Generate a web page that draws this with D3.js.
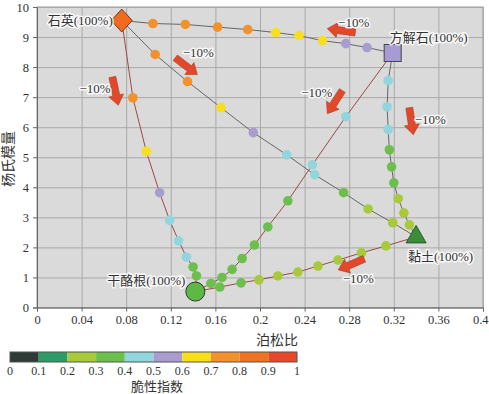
<!DOCTYPE html>
<html>
<head>
<meta charset="utf-8">
<script src="https://cdn.jsdelivr.net/npm/d3@7"></script>
<style>
body { margin: 0; background: #fff; }
svg text { font-family: "Liberation Serif", "Times New Roman", "DejaVu Serif", "Noto Sans CJK SC", serif; fill: #333; }
.halo { paint-order: stroke; stroke: #fff; stroke-width: 3px; stroke-opacity: 0.85; stroke-linejoin: round; }
</style>
</head>
<body>
<div id="chart"></div>
<script>
// End members (Poisson ratio, Young's modulus)
const members = [
    { id: 'qz',   name: '石英(100%)',   x: 0.076, y: 9.55 },
    { id: 'cal',  name: '方解石(100%)', x: 0.319, y: 8.47 },
    { id: 'clay', name: '黏土(100%)',   x: 0.340, y: 2.35 },
    { id: 'ker',  name: '干酪根(100%)', x: 0.142, y: 0.53 }
];

// Mixing curves, 10% steps: [poisson, young, brittleness]
const qzCal = [
    [0.104, 9.45, 0.75], [0.133, 9.42, 0.75], [0.162, 9.33, 0.75], [0.189, 9.25, 0.75],
    [0.214, 9.15, 0.65], [0.235, 9.05, 0.65], [0.256, 8.88, 0.65], [0.277, 8.78, 0.55],
    [0.296, 8.65, 0.55]
];
const qzClay = [
    [0.106, 8.42, 0.75], [0.135, 7.52, 0.75], [0.165, 6.65, 0.65], [0.194, 5.82, 0.55],
    [0.224, 5.08, 0.45], [0.249, 4.42, 0.45], [0.275, 3.82, 0.35], [0.297, 3.28, 0.25],
    [0.319, 2.82, 0.25]
];
const qzKer = [
    [0.086, 6.98, 0.75], [0.098, 5.20, 0.65], [0.110, 3.82, 0.55], [0.119, 2.90, 0.45],
    [0.127, 2.22, 0.45], [0.134, 1.68, 0.45], [0.140, 1.35, 0.35], [0.143, 1.05, 0.35]
];
const kerClay = [
    [0.164, 0.68, 0.35], [0.183, 0.82, 0.35], [0.199, 0.92, 0.25], [0.216, 1.05, 0.25],
    [0.234, 1.18, 0.25], [0.252, 1.38, 0.25], [0.270, 1.58, 0.25], [0.291, 1.82, 0.25],
    [0.313, 2.05, 0.25]
];
const kerCal = [
    [0.156, 0.80, 0.35], [0.166, 1.00, 0.35], [0.175, 1.27, 0.35], [0.184, 1.63, 0.35],
    [0.195, 2.08, 0.35], [0.207, 2.68, 0.35], [0.225, 3.55, 0.35], [0.247, 4.75, 0.45],
    [0.277, 6.35, 0.45]
];
const calClay = [
    [0.315, 7.55, 0.45], [0.314, 6.68, 0.45], [0.315, 5.92, 0.45], [0.316, 5.25, 0.35],
    [0.318, 4.68, 0.35], [0.320, 4.15, 0.35], [0.324, 3.62, 0.25], [0.329, 3.15, 0.25],
    [0.334, 2.75, 0.25]
];

// "-10%" arrows: from [x, y] to [x, y], label at [x, y]
const arrows = [
    { from: [0.0676, 7.67], to: [0.0729, 6.73], label: [0.0520, 7.30] },
    { from: [0.1240, 8.31], to: [0.1438, 7.75], label: [0.1447, 8.48] },
    { from: [0.2855, 9.15], to: [0.2604, 9.28], label: [0.2840, 9.49] },
    { from: [0.2738, 7.22], to: [0.2604, 6.45], label: [0.2510, 7.14] },
    { from: [0.3339, 6.65], to: [0.3375, 5.75], label: [0.3527, 6.25] },
    { from: [0.2935, 1.62], to: [0.2702, 1.25], label: [0.2882, 0.97] }
];

const xTicks = [0, 0.04, 0.08, 0.12, 0.16, 0.2, 0.24, 0.28, 0.32, 0.36, 0.4];
const yTicks = [0, 1, 2, 3, 4, 5, 6, 7, 8, 9, 10];
const brittleTicks = [0, 0.1, 0.2, 0.3, 0.4, 0.5, 0.6, 0.7, 0.8, 0.9, 1];
const brittleColors = ['#2f3a36', '#2e9a66', '#a8c93c', '#6cbf4c', '#90d6dc',
                       '#a99ccf', '#f8df1e', '#f2922c', '#ee7424', '#e8482a'];

const W = 489, H = 394;
const margin = { left: 37, right: 6, top: 7, bottom: 86.5 };
const iw = W - margin.left - margin.right;
const ih = H - margin.top - margin.bottom;
const serif = '"Liberation Serif", "Times New Roman", "DejaVu Serif", serif';

const svg = d3.select('#chart').append('svg')
    .attr('width', W).attr('height', H);

const x = d3.scaleLinear().domain([0, 0.4]).range([margin.left, margin.left + iw]);
const y = d3.scaleLinear().domain([0, 10]).range([margin.top + ih, margin.top]);
const color = d3.scaleThreshold().domain(brittleTicks.slice(1, -1)).range(brittleColors);

// plot background + grid
svg.append('rect')
    .attr('x', margin.left).attr('y', margin.top)
    .attr('width', iw).attr('height', ih)
    .attr('fill', '#dadada').attr('stroke', '#999');

svg.append('g')
    .attr('transform', `translate(0,${margin.top + ih})`)
    .call(d3.axisBottom(x).tickValues(xTicks).tickSize(-ih).tickFormat(''))
    .call(g => g.select('.domain').remove())
    .call(g => g.selectAll('line').attr('stroke', '#a9a9a9'));

svg.append('g')
    .attr('transform', `translate(${margin.left},0)`)
    .call(d3.axisLeft(y).tickValues(yTicks).tickSize(-iw).tickFormat(''))
    .call(g => g.select('.domain').remove())
    .call(g => g.selectAll('line').attr('stroke', '#a9a9a9'));

// axes
const xAxis = svg.append('g')
    .attr('transform', `translate(0,${margin.top + ih})`)
    .call(d3.axisBottom(x).tickValues(xTicks).tickSize(4).tickPadding(4).tickFormat(d => String(d)));
const yAxis = svg.append('g')
    .attr('transform', `translate(${margin.left},0)`)
    .call(d3.axisLeft(y).tickValues(yTicks).tickSize(4).tickPadding(4));
[xAxis, yAxis].forEach(a => {
    a.attr('font-family', serif);
    a.select('.domain').attr('stroke', '#666');
    a.selectAll('line').attr('stroke', '#666');
    a.selectAll('text').attr('font-size', 12.5).attr('fill', '#333')
        .style('font-family', serif);
});
// last x label sits on the right edge
xAxis.selectAll('text').filter(d => d === 0.4).attr('text-anchor', 'end').attr('dx', 5);

svg.append('text')
    .attr('x', 277).attr('y', 345)
    .attr('text-anchor', 'middle').attr('font-size', 14)
    .text('泊松比');

svg.append('text')
    .attr('transform', 'translate(13,159) rotate(-90)')
    .attr('text-anchor', 'middle').attr('font-size', 14)
    .text('杨氏模量');

// curves
const byId = Object.fromEntries(members.map(m => [m.id, m]));
const curves = [
    { from: 'qz', to: 'cal', pts: qzCal, stroke: '#666' },
    { from: 'qz', to: 'clay', pts: qzClay, stroke: '#666' },
    { from: 'cal', to: 'clay', pts: calClay, stroke: '#666' },
    { from: 'qz', to: 'ker', pts: qzKer, stroke: '#9a4a48' },
    { from: 'ker', to: 'cal', pts: kerCal, stroke: '#9a4a48' },
    { from: 'ker', to: 'clay', pts: kerClay, stroke: '#9a4a48' }
];

const line = d3.line().x(d => x(d[0])).y(d => y(d[1]));

svg.append('g').selectAll('path')
    .data(curves)
    .join('path')
    .attr('fill', 'none')
    .attr('stroke', d => d.stroke)
    .attr('stroke-width', 1)
    .attr('d', d => {
        const a = byId[d.from], b = byId[d.to];
        return line([[a.x, a.y], ...d.pts, [b.x, b.y]]);
    });

svg.append('g').selectAll('circle')
    .data(curves.flatMap(c => c.pts))
    .join('circle')
    .attr('cx', d => x(d[0]))
    .attr('cy', d => y(d[1]))
    .attr('r', 4.8)
    .attr('fill', d => color(d[2]));

// end member markers
const mk = svg.append('g');
const q = byId.qz, c = byId.cal, cl = byId.clay, k = byId.ker;
mk.append('path')
    .attr('transform', `translate(${x(q.x)},${y(q.y)})`)
    .attr('d', 'M0,-11.5L10.5,0L0,11.5L-10.5,0Z')
    .attr('fill', '#f06a20').attr('stroke', '#7a3a18').attr('stroke-width', 1);
mk.append('rect')
    .attr('x', x(c.x) - 8.5).attr('y', y(c.y) - 8.5)
    .attr('width', 17).attr('height', 17)
    .attr('fill', '#a89bd4').attr('stroke', '#444').attr('stroke-width', 1);
mk.append('path')
    .attr('transform', `translate(${x(cl.x)},${y(cl.y)})`)
    .attr('d', 'M0,-11.5L10,6L-10,6Z')
    .attr('fill', '#3c8c3a').attr('stroke', '#2a5a2a').attr('stroke-width', 1);
mk.append('circle')
    .attr('cx', x(k.x)).attr('cy', y(k.y)).attr('r', 9.5)
    .attr('fill', '#5cb946').attr('stroke', '#333').attr('stroke-width', 1);

// end member labels
const labelPos = {
    qz:   { dx: -9,  dy: 0,  anchor: 'end' },
    cal:  { dx: -3,  dy: -16, anchor: 'start' },
    clay: { dx: -8,  dy: 20, anchor: 'start' },
    ker:  { dx: -10, dy: -11, anchor: 'end' }
};
svg.append('g').selectAll('text')
    .data(members)
    .join('text')
    .attr('class', 'halo')
    .attr('x', d => x(d.x) + labelPos[d.id].dx)
    .attr('y', d => y(d.y) + labelPos[d.id].dy)
    .attr('dy', '0.35em')
    .attr('text-anchor', d => labelPos[d.id].anchor)
    .attr('font-size', 13)
    .text(d => d.name);

// arrows
function arrowPath(a) {
    const x0 = x(a.from[0]), y0 = y(a.from[1]);
    const x1 = x(a.to[0]), y1 = y(a.to[1]);
    const L = Math.hypot(x1 - x0, y1 - y0);
    const ux = (x1 - x0) / L, uy = (y1 - y0) / L;
    const nx = -uy, ny = ux;
    const sw = 3.5, hw = 7.5, hl = 10;
    const bx = x1 - ux * hl, by = y1 - uy * hl;
    const p = [
        [x0 + nx * sw, y0 + ny * sw],
        [bx + nx * sw, by + ny * sw],
        [bx + nx * hw, by + ny * hw],
        [x1, y1],
        [bx - nx * hw, by - ny * hw],
        [bx - nx * sw, by - ny * sw],
        [x0 - nx * sw, y0 - ny * sw]
    ];
    return 'M' + p.map(d => d.join(',')).join('L') + 'Z';
}

const ar = svg.append('g');
ar.selectAll('path')
    .data(arrows)
    .join('path')
    .attr('d', arrowPath)
    .attr('fill', '#e2492a').attr('stroke', '#a83a22').attr('stroke-width', 0.6);
ar.selectAll('text')
    .data(arrows)
    .join('text')
    .attr('class', 'halo')
    .attr('x', d => x(d.label[0]))
    .attr('y', d => y(d.label[1]))
    .attr('dy', '0.35em')
    .attr('text-anchor', 'middle')
    .attr('font-size', 13)
    .text('\u221210%');

// colour bar legend
const lx = d3.scaleLinear().domain([0, 1]).range([10, 297]);
const leg = svg.append('g');
leg.selectAll('rect')
    .data(brittleColors)
    .join('rect')
    .attr('x', (d, i) => lx(brittleTicks[i]))
    .attr('y', 352)
    .attr('width', (d, i) => lx(brittleTicks[i + 1]) - lx(brittleTicks[i]))
    .attr('height', 10)
    .attr('fill', d => d);
leg.append('rect')
    .attr('x', lx(0)).attr('y', 352)
    .attr('width', lx(1) - lx(0)).attr('height', 10)
    .attr('fill', 'none').attr('stroke', '#555').attr('stroke-width', 1);
leg.selectAll('text.tick')
    .data(brittleTicks)
    .join('text')
    .attr('class', 'tick')
    .attr('x', d => lx(d))
    .attr('y', 375)
    .attr('text-anchor', 'middle')
    .attr('font-size', 12)
    .text(d => String(d));
leg.append('text')
    .attr('x', 157).attr('y', 391)
    .attr('text-anchor', 'middle').attr('font-size', 13)
    .text('脆性指数');
</script>
</body>
</html>
